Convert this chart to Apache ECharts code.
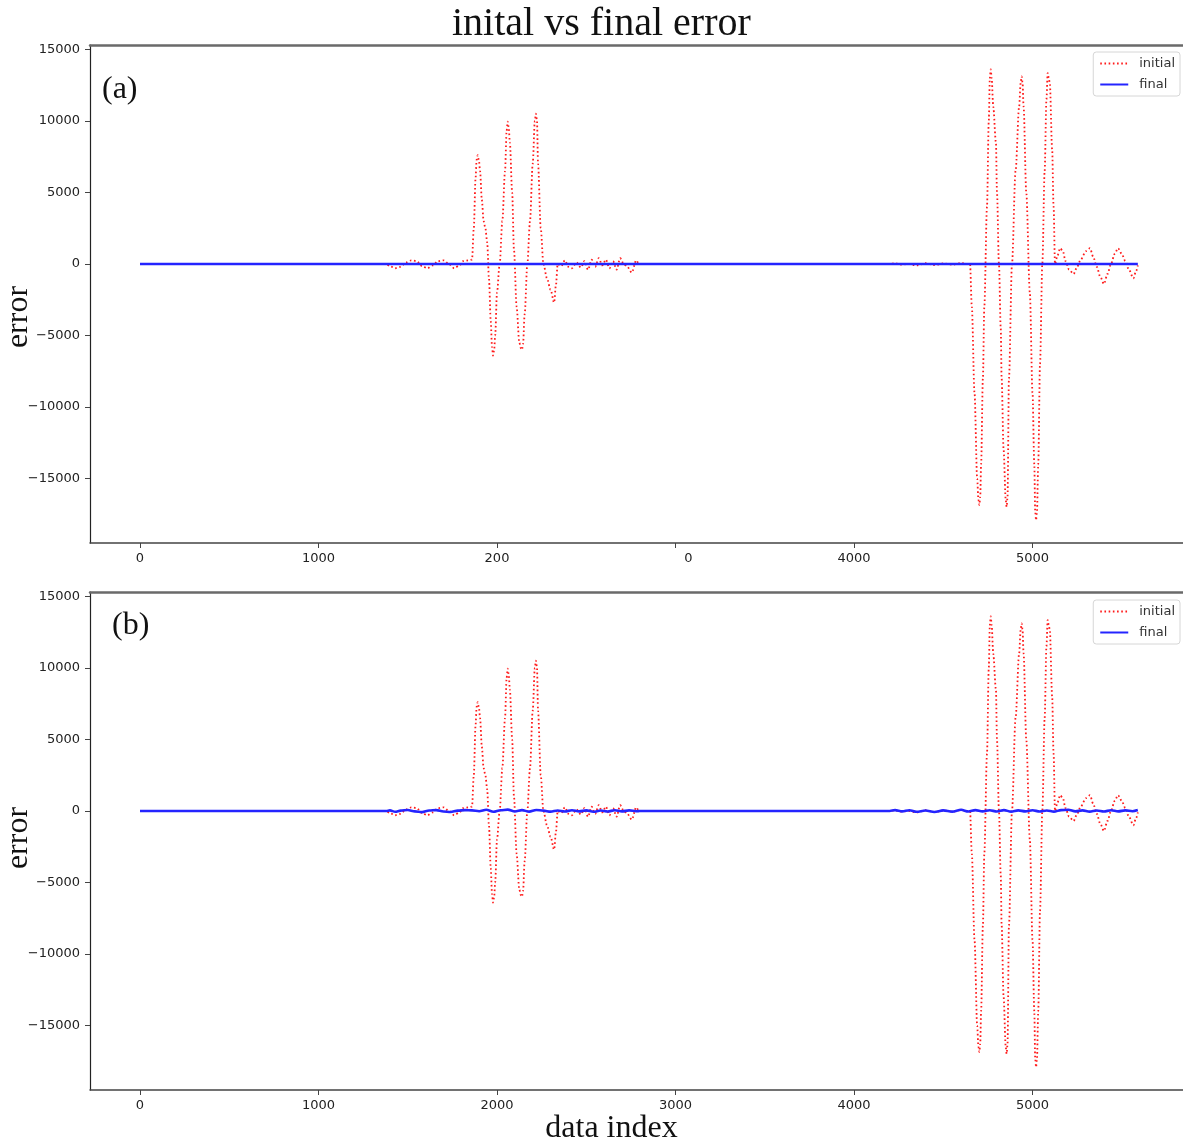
<!DOCTYPE html>
<html>
<head>
<meta charset="utf-8">
<script src="https://cdn.jsdelivr.net/npm/echarts@6/dist/echarts.min.js"></script>
<style>
html,body{margin:0;padding:0;background:#fff;}
#c{width:1183px;height:1144px;}
</style>
</head>
<body>
<div id="c"></div>
<script>
// ---- data ----
var initialX = [0,1380,1400,1430,1460,1490,1520,1550,1580,1610,1640,1670,1700,1730,1760,1790,1810,1840,1860,
  1870,1880,1886,1892,1899,1905,1915,1925,1935,1945,1955,1965,1972,1978,1984,1990,2000,2015,2030,2045,2054,2060,2066,2072,2085,2095,2110,2125,2134,2140,2146,2155,2170,2185,2200,2212,2218,2224,2230,2245,2260,2280,2300,2320,2330,2340,
  2360,2380,2400,2420,2445,2470,2490,2510,2530,2550,2570,2590,2610,2630,2650,2670,2690,2710,2730,2755,2780,2795,
  4200,4230,4260,4300,4350,4400,4450,4500,4550,4600,4640,
  4650,4660,4675,4690,4697,4702,4707,4712,4722,4730,4745,4755,4761,4766,4771,4780,4795,4801,4812,4822,4827,4838,4850,4855,4860,4868,4885,4905,4925,4934,4939,4944,4950,4965,4985,5000,5010,5015,5020,5025,5032,5042,5055,5068,5078,5085,5091,5097,5110,5118,5126,
  5140,5155,5170,5185,5205,5230,5250,5270,5300,5322,5340,5360,5380,5400,5420,5440,5460,5479,5500,5520,5540,5565,5580,5590];
var initialY = [0,0,-150,-300,-200,100,250,200,-150,-300,-100,200,250,0,-300,-100,200,250,300,
  2500,6000,7300,7600,7200,6500,4500,3000,2500,1500,-1000,-4000,-5800,-6400,-6000,-5000,-2000,0,3000,6500,9300,9950,9500,8500,5000,1000,-3000,-5500,-5900,-6000,-5600,-3500,0,3000,7000,10000,10500,10000,7000,2500,0,-1000,-1800,-2700,-1500,0,
  -150,250,-200,-300,100,-250,200,-400,300,-200,400,-100,300,-300,200,-400,400,0,-200,-600,250,0,
  0,50,-50,0,-100,50,-80,30,-50,60,0,
  0,-3000,-9000,-15000,-16500,-16850,-16300,-14000,-8000,-3000,4000,10000,13000,13600,13000,11000,8500,5000,0,-4500,-8000,-13000,-16500,-16970,-16300,-8000,0,6500,11000,12700,13100,12700,11000,5000,-2000,-9000,-14000,-17300,-17900,-17300,-14000,-7000,0,6500,11500,13340,13000,12600,8000,4000,0,
  600,1100,900,200,-400,-700,-200,300,900,1100,500,-200,-900,-1400,-700,0,700,1100,700,200,-400,-1000,-500,-100];

var finalAX = [0,1400,2800,4200,5590];
var finalAY = [0,0,0,0,0];

var finalBX = [0,1380,1400,1430,1460,1500,1540,1580,1620,1660,1700,1740,1780,1820,1860,1900,1940,1980,2020,2060,2100,2140,2180,2220,2260,2300,2340,2380,2420,2460,2500,2540,2580,2620,2660,2700,2740,2780,2800,
  4200,4230,4270,4310,4350,4400,4450,4500,4550,4600,4640,4680,4720,4760,4800,4840,4880,4920,4960,5000,5040,5080,5120,5160,5200,5240,5280,5320,5360,5400,5440,5480,5520,5560,5590];
var finalBY = [0,0,40,-60,20,70,-30,-80,30,60,-40,-70,20,60,40,-20,80,-60,50,90,-40,60,-50,70,20,-50,30,-40,50,-30,40,-60,30,-40,50,-30,40,-20,0,
  0,60,-30,50,-60,30,-70,40,-50,80,-40,60,-30,50,-40,60,-50,40,-30,50,-40,30,-50,60,80,-30,40,-50,30,-40,50,-30,40,-20,60];

var yTicks = [-15000,-10000,-5000,0,5000,10000,15000];
var xTicks = [0,1000,2000,3000,4000,5000];
var topXLabels = ['0','1000','200','0','4000','5000'];
var bottomXLabels = ['0','1000','2000','3000','4000','5000'];

function pairs(xs, ys){ var out=[]; for(var i=0;i<xs.length;i++) out.push([xs[i], ys[i]]); return out; }

// ---- chart ----
var chart = echarts.init(document.getElementById('c'), null, {renderer:'canvas'});
var SANS = 'DejaVu Sans';
var SERIF = 'Liberation Serif';
var XMIN = -280, XMAX = 5843, YMIN = -19500, YMAX = 15300;

function yFmt(v){ return v < 0 ? '\u2212' + Math.abs(v) : String(v); }

function bottomAxis(gridIndex, labels, withName){
  var ax = {
    type:'value', gridIndex:gridIndex, min:XMIN, max:XMAX, position:'bottom',
    splitLine:{show:false},
    axisLine:{show:true, onZero:false, lineStyle:{color:'#444', width:1.5}},
    axisTick:{show:true, length:5, customValues:xTicks, lineStyle:{color:'#444', width:1}},
    axisLabel:{show:true, margin:9, customValues:xTicks, color:'#222', fontFamily:SANS, fontSize:13,
      formatter:function(v){
        var i = xTicks.indexOf(v); var s = i >= 0 ? labels[i] : '';
        if (labels === topXLabels && v === 3000) return '{r|' + s + '}';
        return s;
      },
      rich:{ r:{padding:[0,0,0,26], color:'#222', fontFamily:SANS, fontSize:13} }
    }
  };
  if (withName){
    ax.name = 'data index'; ax.nameLocation = 'middle'; ax.nameGap = 23;
    ax.nameTextStyle = {fontFamily:SERIF, fontSize:32, color:'#111', padding:[0,50,0,0]};
  }
  return ax;
}
function topAxis(gridIndex){
  return {type:'value', gridIndex:gridIndex, min:XMIN, max:XMAX, position:'top',
    splitLine:{show:false}, axisTick:{show:false}, axisLabel:{show:false},
    axisLine:{show:true, onZero:false, lineStyle:{color:'#6a6a6a', width:2.5}}};
}
function leftAxis(gridIndex){
  return {type:'value', gridIndex:gridIndex, min:YMIN, max:YMAX,
    splitLine:{show:false},
    axisLine:{show:true, onZero:false, lineStyle:{color:'#222', width:1.2}},
    axisTick:{show:true, length:5, customValues:yTicks, lineStyle:{color:'#444'}},
    axisLabel:{show:true, margin:10, customValues:yTicks, color:'#222', fontFamily:SANS, fontSize:13, formatter:yFmt}
  };
}

var redStyle = {color:'#ff1a1a', width:1.8, type:[1.6,2.6]};
var blueStyle = {color:'#2424ff', width:2.6, type:'solid'};

function lineSeries(name, xi, yi, data, style, z){
  return {name:name, type:'line', xAxisIndex:xi, yAxisIndex:yi, data:data,
    symbol:'none', showSymbol:false, smooth:0.3, smoothMonotone:'x',
    lineStyle:style, itemStyle:{color:style.color}, z:z, silent:true, animation:false};
}

function legend(top){
  return {orient:'vertical', right:3, top:top, data:['initial','final'],
    itemWidth:28, itemHeight:12, itemGap:8, padding:[5,5,5,6],
    itemStyle:{opacity:0},
    backgroundColor:'#fff', borderColor:'#d6d6d6', borderWidth:1, borderRadius:3,
    textStyle:{fontFamily:SANS, fontSize:13, color:'#333', padding:[0,0,0,6]}, selectedMode:false};
}

function yName(cy){
  return {type:'text', x:19, y:cy, rotation:Math.PI/2,
    style:{text:'error', fontFamily:SERIF, fontSize:32, fill:'#111', align:'center', verticalAlign:'middle'}};
}

var option = {
  backgroundColor:'#ffffff',
  animation:false,
  title:{text:'inital vs final error', left:447, top:-1,
    textStyle:{fontFamily:SERIF, fontSize:40, fontWeight:'normal', color:'#111'}},
  legend:[legend(52), legend(600)],
  grid:[
    {left:90, top:45, right:0, height:498, outerBoundsMode:'none', containLabel:false},
    {left:90, top:592, right:0, height:498, outerBoundsMode:'none', containLabel:false}
  ],
  xAxis:[bottomAxis(0, topXLabels, false), topAxis(0), bottomAxis(1, bottomXLabels, true), topAxis(1)],
  yAxis:[leftAxis(0), leftAxis(1)],
  graphic:[
    {type:'text', left:102, top:74, style:{text:'(a)', fontFamily:SERIF, fontSize:32, fill:'#111'}},
    {type:'text', left:112, top:610, style:{text:'(b)', fontFamily:SERIF, fontSize:32, fill:'#111'}},
    yName(317),
    yName(838)
  ],
  series:[
    lineSeries('initial', 0, 0, pairs(initialX, initialY), redStyle, 2),
    lineSeries('final', 0, 0, pairs(finalAX, finalAY), blueStyle, 3),
    lineSeries('initial', 2, 1, pairs(initialX, initialY), redStyle, 2),
    lineSeries('final', 2, 1, pairs(finalBX, finalBY), blueStyle, 3)
  ]
};
chart.setOption(option);
</script>
</body>
</html>
